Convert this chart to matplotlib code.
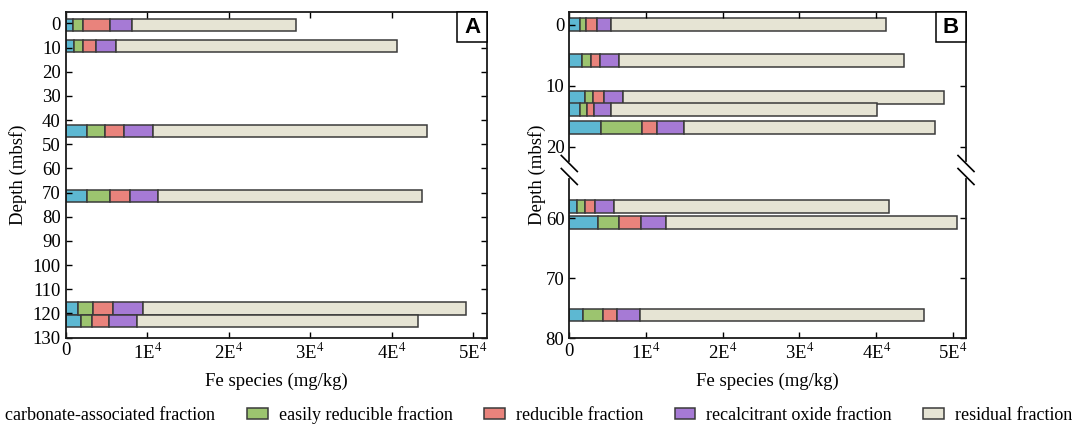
import matplotlib
matplotlib.use('Agg')
import matplotlib.pyplot as plt
import matplotlib.patches as patches
from matplotlib.lines import Line2D

plt.rcParams['font.family'] = ['Liberation Serif', 'DejaVu Serif']
plt.rcParams['mathtext.fontset'] = 'stix'

# fractions, in stacking order
fractions = ['carbonate-associated fraction', 'easily reducible fraction',
             'reducible fraction', 'recalcitrant oxide fraction', 'residual fraction']
colors = ['#5DB8D2', '#9CC46F', '#E9837C', '#A67AD5', '#E6E4D4']

# Panel A (mbsf, mg/kg)
depth_a = [0.5, 9.5, 44.5, 71.5, 118, 123]
carb_a = [940, 1020, 2580, 2660, 1515, 1880]
easy_a = [1190, 1150, 2290, 2830, 1880, 1310]
red_a = [3360, 1560, 2330, 2380, 2460, 2090]
recalc_a = [2700, 2460, 3560, 3440, 3690, 3440]
resid_a = [20070, 34480, 33580, 32430, 39520, 34520]

# Panel B (mbsf, mg/kg)
depth_b = [0, 5.9, 12.0, 13.9, 16.8, 58.1, 60.7, 76.1]
carb_b = [1390, 1650, 2090, 1390, 4130, 1040, 3780, 1830]
easy_b = [740, 1130, 1040, 870, 5300, 1040, 2650, 2610]
red_b = [1430, 1260, 1390, 1000, 2000, 1260, 2870, 1780]
recalc_b = [1910, 2390, 2520, 2130, 3480, 2430, 3260, 3040]
resid_b = [35830, 37130, 41740, 34700, 32780, 35960, 37960, 37000]

xticks = [0, 10000, 20000, 30000, 40000, 50000]
xticklabels = ['0', '1E$^{4}$', '2E$^{4}$', '3E$^{4}$', '4E$^{4}$', '5E$^{4}$']

FS = 13.5
EDGE = '#3a3a3a'
W, H = 1075, 428


def stack(ax, depths, series, height):
    left = [0] * len(depths)
    for vals, c in zip(series, colors):
        ax.barh(depths, vals, left=left, height=height, color=c,
                edgecolor=EDGE, linewidth=1.1)
        left = [l + v for l, v in zip(left, vals)]


def style(ax, bottom=True, top=True):
    ax.tick_params(direction='in', length=4, width=1, labelsize=FS,
                   top=top, right=True, bottom=bottom, left=True,
                   labelbottom=bottom)
    for s in ax.spines.values():
        s.set_linewidth(1.3)
        s.set_color('#1a1a1a')
    ax.set_xlim(0, 51700)
    ax.set_xticks(xticks)
    if bottom:
        ax.set_xticklabels(xticklabels)


def letter(fig, ax, txt):
    pos = ax.get_position()
    bw = 30 / (pos.width * W)
    bh = 29.5 / (pos.height * H)
    ax.add_patch(patches.Rectangle((1 - bw, 1 - bh), bw, bh, transform=ax.transAxes,
                                   facecolor='white', edgecolor='black', lw=1.1,
                                   zorder=5, clip_on=False))
    ax.text(1 - bw / 2, 1 - bh / 2, txt, transform=ax.transAxes, ha='center',
            va='center', fontsize=16, fontweight='bold', family='Liberation Sans',
            zorder=6)


fig = plt.figure(figsize=(W / 100, H / 100), dpi=100)

# ---- panel A
axA = fig.add_axes([65.7 / W, 1 - 337.5 / H, (487 - 65.7) / W, (337.5 - 12.3) / H])
stack(axA, depth_a, [carb_a, easy_a, red_a, recalc_a, resid_a], 5.0)
style(axA)
axA.set_ylim(130, -4.6)
axA.set_yticks(range(0, 131, 10))
axA.set_xlabel('Fe species (mg/kg)', fontsize=FS, labelpad=7)
axA.set_ylabel('Depth (mbsf)', fontsize=FS, labelpad=4)
letter(fig, axA, 'A')

# ---- panel B (broken axis)
jy = 170.0
bx0, bx1 = 569.3, 966.0
axB1 = fig.add_axes([bx0 / W, 1 - jy / H, (bx1 - bx0) / W, (jy - 12.3) / H])
axB2 = fig.add_axes([bx0 / W, 1 - 338.3 / H, (bx1 - bx0) / W, (338.3 - jy) / H])
series_b = [carb_b, easy_b, red_b, recalc_b, resid_b]
for ax in (axB1, axB2):
    stack(ax, depth_b, series_b, 2.1)
style(axB1, bottom=False)
style(axB2, top=False)
axB1.set_ylim(23.8, -2)
axB1.set_yticks([0, 10, 20])
axB2.set_ylim(80, 52)
axB2.set_yticks([60, 70, 80])
axB1.spines['bottom'].set_visible(False)
axB2.spines['top'].set_visible(False)
axB2.set_xlabel('Fe species (mg/kg)', fontsize=FS, labelpad=7)
fig.text(537 / W, 1 - 175 / H, 'Depth (mbsf)', rotation=90, ha='center',
         va='center', fontsize=FS)
letter(fig, axB1, 'B')

# break marks on both spines
for xs in (bx0, bx1):
    fig.add_artist(Line2D([xs / W, xs / W], [1 - (jy - 6) / H, 1 - (jy + 6) / H],
                          transform=fig.transFigure, color='white', lw=3))
    for dy in (-6.5, 6.5):
        cy = jy + dy
        fig.add_artist(Line2D([(xs - 8) / W, (xs + 8) / W],
                              [1 - (cy - 8) / H, 1 - (cy + 8) / H],
                              transform=fig.transFigure, color='black', lw=1.2))

# legend along the bottom (its left end runs off the canvas, as in the source)
handles = [patches.Patch(facecolor=c, edgecolor=EDGE, lw=1.1) for c in colors]
fig.legend(handles, fractions, loc='center', bbox_to_anchor=(523 / W, 1 - 415 / H),
           ncol=5, frameon=False, fontsize=13, handlelength=1.15, handleheight=0.55,
           handletextpad=0.6, columnspacing=1.75)

fig.savefig('out.png', dpi=100)
